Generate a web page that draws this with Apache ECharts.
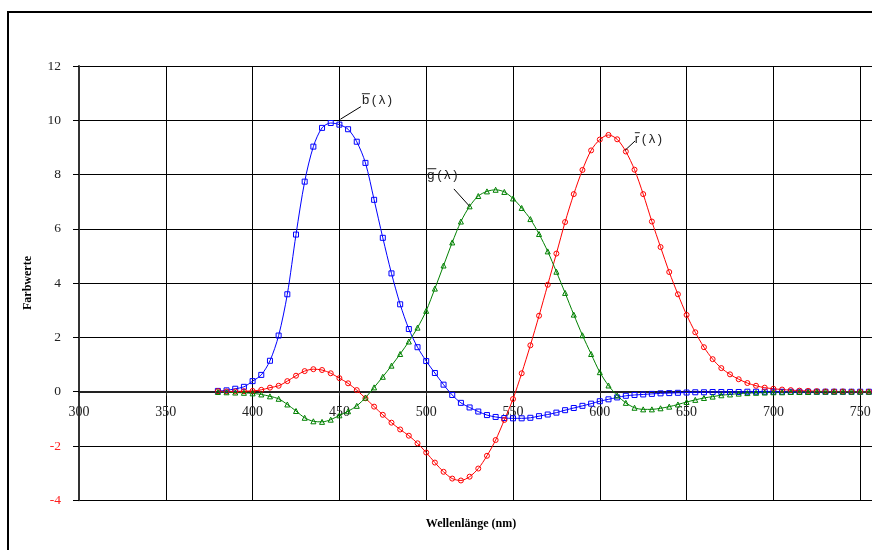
<!DOCTYPE html>
<html><head><meta charset="utf-8">
<script src="https://cdn.jsdelivr.net/npm/echarts@6/dist/echarts.min.js"></script>
<style>html,body{margin:0;padding:0;background:#fff}#c{width:872px;height:550px}</style>
</head><body><div id="c"></div>
<script>
const wavelengths = [380,385,390,395,400,405,410,415,420,425,430,435,440,445,450,455,460,465,470,475,480,485,490,495,500,505,510,515,520,525,530,535,540,545,550,555,560,565,570,575,580,585,590,595,600,605,610,615,620,625,630,635,640,645,650,655,660,665,670,675,680,685,690,695,700,705,710,715,720,725,730,735,740,745,750,755,760,765,770,775,780];

const bBar = [0.03,0.05,0.11,0.18,0.39,0.62,1.14,2.07,3.59,5.79,7.74,9.03,9.72,9.90,9.84,9.67,9.21,8.43,7.07,5.67,4.36,3.22,2.31,1.64,1.13,0.69,0.26,-0.12,-0.41,-0.58,-0.73,-0.86,-0.93,-0.97,-0.98,-0.98,-0.96,-0.90,-0.84,-0.77,-0.68,-0.60,-0.52,-0.44,-0.35,-0.28,-0.21,-0.15,-0.12,-0.10,-0.08,-0.06,-0.05,-0.04,-0.03,-0.02,-0.02,-0.01,-0.01,-0.01,-0.01,0,0,0,0,0,0,0,0,0,0,0,0,0,0,0,0,0,0,0,0];

const rBar = [0.02,0.01,0.01,0.02,0.03,0.07,0.15,0.22,0.39,0.59,0.76,0.83,0.80,0.68,0.50,0.31,0.06,-0.24,-0.55,-0.85,-1.14,-1.39,-1.62,-1.90,-2.24,-2.61,-2.95,-3.20,-3.27,-3.13,-2.83,-2.36,-1.78,-1.04,-0.27,0.68,1.71,2.80,3.94,5.09,6.25,7.28,8.17,8.89,9.29,9.46,9.30,8.85,8.18,7.28,6.27,5.33,4.41,3.59,2.83,2.19,1.64,1.20,0.87,0.64,0.46,0.32,0.22,0.15,0.11,0.08,0.06,0.04,0.03,0.02,0.01,0.01,0.01,0,0,0,0,0,0,0,0];

const gBar = [-0.01,-0.02,-0.03,-0.04,-0.06,-0.10,-0.17,-0.26,-0.47,-0.71,-0.96,-1.09,-1.11,-1.03,-0.87,-0.72,-0.52,-0.22,0.16,0.55,0.96,1.39,1.85,2.36,2.98,3.80,4.65,5.50,6.27,6.83,7.21,7.38,7.44,7.36,7.12,6.77,6.36,5.81,5.17,4.42,3.64,2.84,2.08,1.39,0.72,0.23,-0.14,-0.41,-0.59,-0.65,-0.65,-0.61,-0.55,-0.47,-0.38,-0.30,-0.23,-0.18,-0.13,-0.10,-0.07,-0.05,-0.04,-0.03,-0.02,-0.02,-0.01,-0.01,-0.01,0,0,0,0,0,0,0,0,0,0,0,0];

const xTitle = 'Wellenlänge (nm)';
const yTitle = 'Farbwerte';

const serif = '"Liberation Serif", "Times New Roman", serif';
const sans = '"Liberation Sans", Arial, sans-serif';

const yMin = -4, yMax = 12;
const gridH = 434.3;

function pairs(vals){ return wavelengths.map((w,i)=>[w, vals[i]]); }

function mkSeries(name, vals, color, symbol){
  return {
    name, type:'line', data: pairs(vals), smooth: 0.3,
    symbol, symbolSize: 5, showSymbol: true,
    lineStyle:{color, width:1},
    itemStyle:{color:'rgba(0,0,0,0)', borderColor: color, borderWidth:1},
    emphasis:{disabled:true}, animation:false
  };
}

const chart = echarts.init(document.getElementById('c'), null, {renderer:'canvas'});
chart.setOption({
  backgroundColor:'#fff',
  animation:false,
  grid:{left:79, top:66, width:868, height:gridH, containLabel:false, outerBoundsMode:'none'},
  xAxis:{
    type:'value', min:300, max:800, interval:50, position:'bottom',
    offset: -gridH * (0 - yMin) / (yMax - yMin),
    axisLine:{onZero:false, lineStyle:{color:'#222', width:2}},
    axisTick:{show:true, length:4, lineStyle:{color:'#222'}},
    axisLabel:{color:'#222', fontFamily:serif, fontSize:14, margin:14, showMaxLabel:true},
    splitLine:{show:true, lineStyle:{color:'#000', width:1}}
  },
  yAxis:{
    type:'value', min:yMin, max:yMax, interval:2,
    axisLine:{show:true, onZero:false, lineStyle:{color:'#333', width:2}},
    axisTick:{show:true, length:6, lineStyle:{color:'#000'}},
    axisLabel:{fontFamily:serif, fontSize:13.5, margin:18, color:'#222',
      formatter: v => v < 0 ? '{neg|' + v + '}' : String(v),
      rich:{neg:{color:'#ff2020', fontFamily:serif, fontSize:13.5}}},
    splitLine:{show:true, lineStyle:{color:'#000', width:1}}
  },
  series:[
    mkSeries('b', bBar, '#0000ff', 'rect'),
    mkSeries('r', rBar, '#ff0000', 'circle'),
    mkSeries('g', gBar, '#008000', 'triangle')
  ]
});

const annots = [
  {name:'b', lam:450, vals:bBar, lead:[1,-5.4,21.5,-18], text:[22.5,-20.4], ol:8},
  {name:'g', lam:525, vals:gBar, lead:[0,0,-15.7,-17.4], text:[-42.3,-27.1], ol:9},
  {name:'r', lam:615, vals:rBar, lead:[-1,-1,9.3,-10.6], text:[9,-8.3], ol:5}
];
const els = [
  {type:'rect', shape:{x:8, y:12, width:950, height:650}, style:{fill:null, stroke:'#000', lineWidth:2}, z:100},
  {type:'text', x:471, y:524, style:{text:xTitle, font:'bold 12px ' + serif, fill:'#000', textAlign:'center', textVerticalAlign:'middle'}, z:100},
  {type:'text', x:28, y:283, rotation:Math.PI/2, style:{text:yTitle, font:'bold 12px ' + serif, fill:'#000', textAlign:'center', textVerticalAlign:'middle'}, z:100}
];
const ts = '\u2009';
annots.forEach(a=>{
  const idx = wavelengths.indexOf(a.lam);
  const p = chart.convertToPixel({gridIndex:0}, [a.lam, a.vals[idx]]);
  els.push({type:'line', shape:{x1:p[0]+a.lead[0], y1:p[1]+a.lead[1], x2:p[0]+a.lead[2], y2:p[1]+a.lead[3]}, style:{stroke:'#000', lineWidth:1}, z:100});
  const tx = p[0]+a.text[0], base = p[1]+a.text[1];
  els.push({type:'text', x:tx, y:base-4, style:{text:a.name+ts+'('+ts+'λ'+ts+')', font:'13px ' + sans, fill:'#222', textAlign:'left', textVerticalAlign:'middle'}, z:100});
  els.push({type:'line', shape:{x1:tx, y1:base-10.5, x2:tx+a.ol, y2:base-10.5}, style:{stroke:'#222', lineWidth:1}, z:100});
});
chart.setOption({graphic:els});
</script>
</body></html>
